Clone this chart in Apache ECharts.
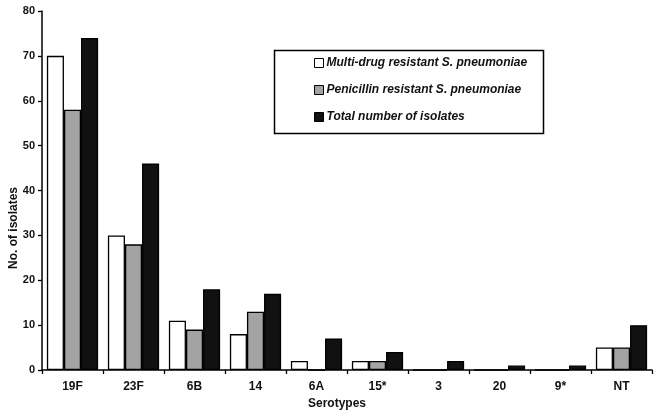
<!DOCTYPE html>
<html>
<head>
<meta charset="utf-8">
<script src="https://cdn.jsdelivr.net/npm/echarts@6/dist/echarts.min.js"></script>
<style>
html,body{margin:0;padding:0;background:#fff;}
#chart{width:659px;height:417px;}
</style>
</head>
<body>
<div id="chart"></div>
<script>
var categories = ['19F', '23F', '6B', '14', '6A', '15*', '3', '20', '9*', 'NT'];
var multiDrug = [70, 30, 11, 8, 2, 2, 0, 0, 0, 5];
var penicillin = [58, 28, 9, 13, 0, 2, 0, 0, 0, 5];
var totalIsolates = [74, 46, 18, 17, 7, 4, 2, 1, 1, 10];
var seriesNames = ['Multi-drug resistant S. pneumoniae', 'Penicillin resistant S. pneumoniae', 'Total number of isolates'];
var yTicks = [0, 10, 20, 30, 40, 50, 60, 70, 80];

var FONT = '"Liberation Sans", Arial, Helvetica, sans-serif';
var chart = echarts.init(document.getElementById('chart'), null, {renderer: 'canvas'});

function mk(name, data, fill) {
  return {
    name: name,
    type: 'bar',
    data: data,
    barGap: '0%',
    barCategoryGap: '16%',
    itemStyle: {color: fill, borderColor: '#000', borderWidth: 1.3},
    emphasis: {disabled: true},
    animation: false
  };
}

chart.setOption({
  backgroundColor: '#fff',
  animation: false,
  grid: {left: 42, right: 7, top: 11, bottom: 47, containLabel: false},
  legend: {
    orient: 'vertical',
    left: 314,
    top: 56,
    itemWidth: 9,
    itemHeight: 9,
    itemGap: 13,
    icon: 'rect',
    padding: 0,
    data: seriesNames,
    itemStyle: {borderColor: '#000', borderWidth: 1},
    textStyle: {fontFamily: FONT, fontSize: 12, fontWeight: 'bold', fontStyle: 'italic', color: '#111', lineHeight: 14, padding: [0, 0, 0, -2]}
  },
  xAxis: {
    type: 'category',
    data: categories,
    axisLine: {lineStyle: {color: '#000', width: 1.5}},
    axisTick: {show: true, length: 4, lineStyle: {color: '#000', width: 1.3}},
    axisLabel: {fontFamily: FONT, fontSize: 12, fontWeight: 'bold', color: '#111', margin: 11}
  },
  yAxis: {
    type: 'value',
    min: 0,
    max: yTicks[yTicks.length - 1],
    interval: 10,
    splitLine: {show: false},
    axisLine: {show: true, lineStyle: {color: '#000', width: 1.5}},
    axisTick: {show: true, length: 4, lineStyle: {color: '#000', width: 1.3}},
    axisLabel: {fontFamily: FONT, fontSize: 11, fontWeight: 'bold', color: '#111', margin: 7}
  },
  graphic: [
    {type: 'rect', left: 272, top: 48, shape: {width: 269, height: 83}, style: {fill: 'none', stroke: '#000', lineWidth: 1.5}, z: 10},
    {type: 'text', x: 337, y: 404, style: {text: 'Serotypes', font: 'bold 12px ' + FONT, fill: '#111', textAlign: 'center', textVerticalAlign: 'middle'}},
    {type: 'text', x: 14, y: 228, rotation: Math.PI / 2, style: {text: 'No. of isolates', font: 'bold 12px ' + FONT, fill: '#111', textAlign: 'center', textVerticalAlign: 'middle'}}
  ],
  series: [
    mk(seriesNames[0], multiDrug, '#ffffff'),
    mk(seriesNames[1], penicillin, '#a3a3a3'),
    mk(seriesNames[2], totalIsolates, '#111111')
  ]
});
</script>
</body>
</html>
